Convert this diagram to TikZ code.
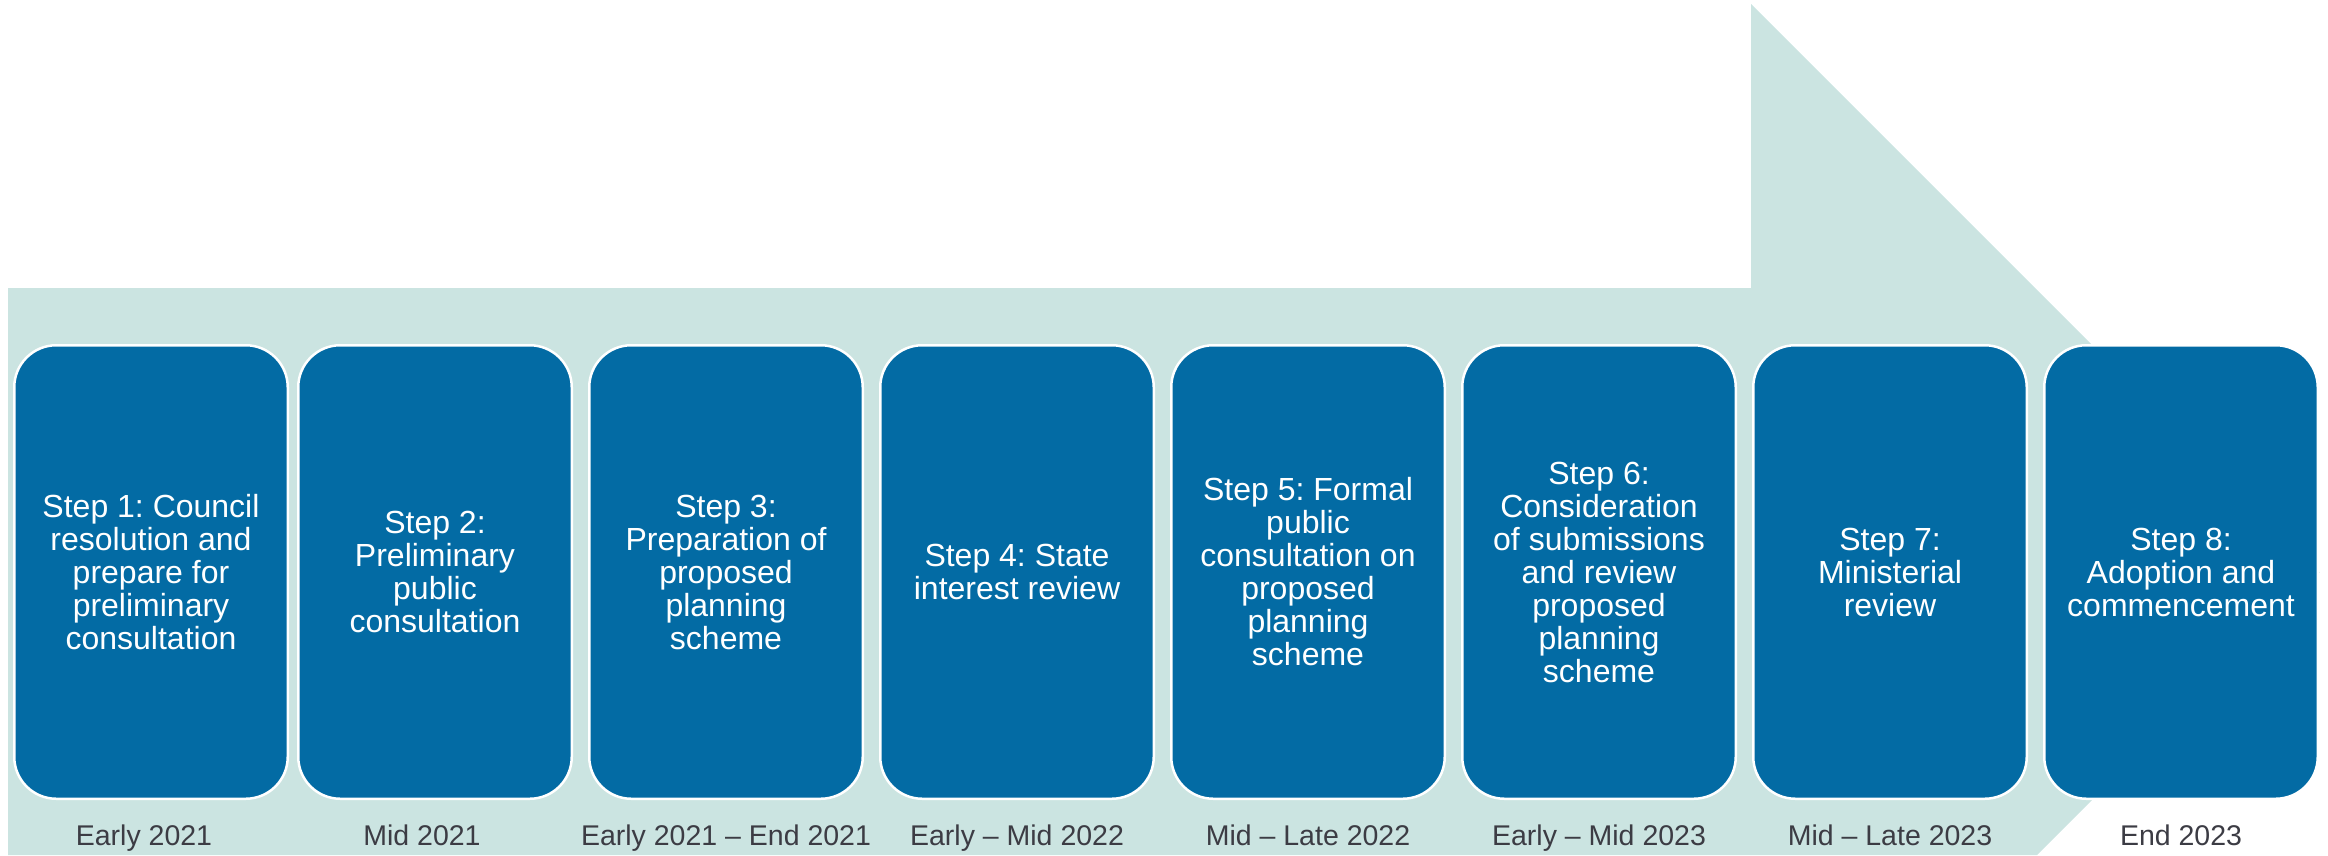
\documentclass[tikz,border=0pt]{standalone}
\usepackage{fontspec}
\setmainfont{Liberation Sans}
\frenchspacing
\definecolor{arrowteal}{RGB}{203,228,225}
\definecolor{stepblue}{RGB}{3,107,164}
\definecolor{dategray}{RGB}{60,60,68}
\tikzset{
  stepbox/.style={rectangle, rounded corners=42pt, draw=white, line width=2.5pt,
    fill=stepblue, minimum width=273.5pt, minimum height=453.5pt, inner sep=0pt,
    text=white, align=center, font=\fontsize{32}{33}\selectfont},
  datelabel/.style={anchor=base, text=dategray, inner sep=0pt,
    font=\fontsize{28.5}{30}\selectfont}
}
\begin{document}
\begin{tikzpicture}[x=1pt,y=-1pt]
\useasboundingbox (0,0) rectangle (2328,855);
% big background arrow
\fill[arrowteal] (8,288) -- (1751,288) -- (1751,4) -- (2319.5,572.5) -- (2037,855) -- (8,855) -- cycle;
% steps
\node[stepbox] (s1) at (151,572) {Step 1: Council\\resolution and\\prepare for\\preliminary\\consultation};
\node[stepbox] (s2) at (435,572) {Step 2:\\Preliminary\\public\\consultation};
\node[stepbox] (s3) at (726,572) {Step 3:\\Preparation of\\proposed\\planning\\scheme};
\node[stepbox] (s4) at (1017,572) {Step 4: State\\interest review};
\node[stepbox] (s5) at (1308,572) {Step 5: Formal\\public\\consultation on\\proposed\\planning\\scheme};
\node[stepbox] (s6) at (1599,572) {Step 6:\\Consideration\\of submissions\\and review\\proposed\\planning\\scheme};
\node[stepbox] (s7) at (1890,572) {Step 7:\\Ministerial\\review};
\node[stepbox] (s8) at (2181,572) {Step 8:\\Adoption and\\commencement};
% dates
\node[datelabel] (d1) at (144,845) {Early 2021};
\node[datelabel] (d2) at (422,845) {Mid 2021};
\node[datelabel] (d3) at (726,845) {Early 2021 – End 2021};
\node[datelabel] (d4) at (1017,845) {Early – Mid 2022};
\node[datelabel] (d5) at (1308,845) {Mid – Late 2022};
\node[datelabel] (d6) at (1599,845) {Early – Mid 2023};
\node[datelabel] (d7) at (1890,845) {Mid – Late 2023};
\node[datelabel] (d8) at (2181,845) {End 2023};
\end{tikzpicture}
\end{document}
